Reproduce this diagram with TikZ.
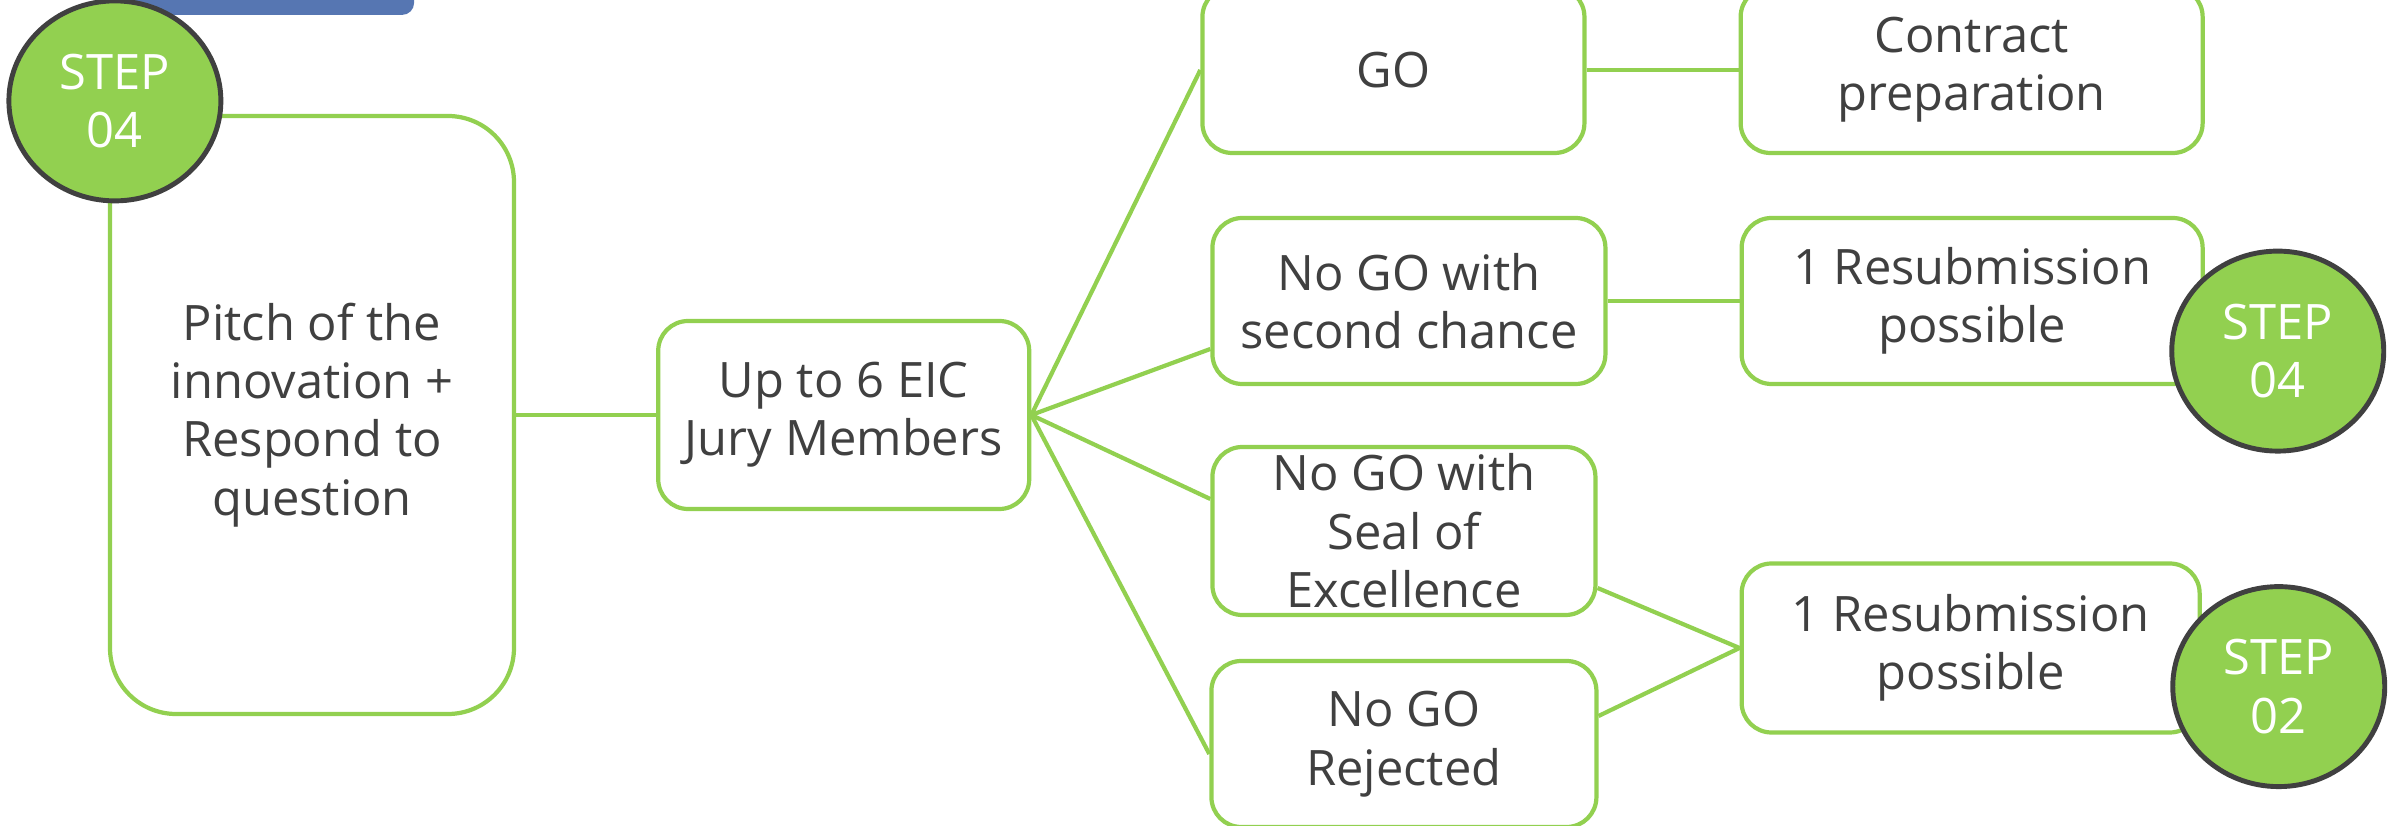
\documentclass[tikz,border=0pt]{standalone}
\usepackage{fontspec}
\setmainfont{Open Sans}
\usepackage{xcolor}
\usepackage{tikz}
\usetikzlibrary{shapes.geometric, positioning}
\definecolor{eicgreen}{HTML}{92D050}
\definecolor{eicgray}{HTML}{404040}
\definecolor{eicblue}{HTML}{5676B2}

\begin{document}
\begin{tikzpicture}[
    font=\fontsize{13.9}{16.6}\selectfont,
    line width=1.2pt,
    box/.style={rectangle, draw=eicgreen, fill=white, rounded corners=#1, text=eicgray, align=center, inner sep=0pt, minimum height=1.66cm},
    box/.default=8.5pt,
    stepnode/.style={ellipse, draw=eicgray, line width=1.4pt, fill=eicgreen, text=white, align=center, minimum width=2.12cm, minimum height=2cm, inner sep=0pt},
    link/.style={draw=eicgreen, line width=1.2pt},
]
    \useasboundingbox (-3.12,-4.11) rectangle (20.80,4.15);

    % Banner (cut off at the top)
    \node[fill=eicblue, rounded corners=3.4pt, minimum width=3.13cm, minimum height=0.6cm, inner sep=0pt, anchor=south west] (banner) at (-2.13,3.98) {};

    % Pitch and jury
    \node[box=18.8pt, minimum width=4.04cm, minimum height=5.98cm] (pitch) {Pitch of the\\innovation +\\Respond to\\question};
    \node[box, minimum width=3.71cm, minimum height=1.88cm, right=1.40cm of pitch] (jury) {Up to 6 EIC\\Jury Members};

    % Outcomes
    \node[box, minimum width=3.82cm, right=1.69cm of jury, yshift=3.45cm] (go) {GO};
    \node[box, minimum width=3.93cm, right=1.79cm of jury, yshift=1.14cm] (second) {No GO with\\second chance};
    \node[box, minimum width=3.83cm, minimum height=1.68cm, right=1.79cm of jury, yshift=-1.16cm] (seal) {No GO with\\Seal of\\Excellence};
    \node[box, minimum width=3.85cm, right=1.78cm of jury, yshift=-3.29cm] (rejected) {No GO\\Rejected};

    % Next steps
    \node[box, minimum width=4.62cm, right=1.52cm of go] (contract) {Contract\\preparation};
    \node[box, minimum width=4.61cm, right=1.32cm of second] (resubA) {1 Resubmission\\possible};
    \node[box, minimum width=4.58cm, minimum height=1.69cm, right=1.42cm of seal, yshift=-1.17cm] (resubB) {1 Resubmission\\possible};

    \draw[link] (pitch) -- (jury);
    \draw[link] (jury.east) -- (go.west);
    \draw[link] (jury.east) -- ([yshift=-0.48cm]second.west);
    \draw[link] (jury.east) -- ([yshift=0.32cm]seal.west);
    \draw[link] (jury.east) -- ([yshift=-0.10cm]rejected.west);
    \draw[link] (go) -- (contract);
    \draw[link] (second) -- (resubA);
    \draw[link] ([yshift=-0.57cm]seal.east) -- (resubB.west);
    \draw[link] ([yshift=0.28cm]rejected.east) -- (resubB.west);

    % Step badges
    \node[stepnode, xshift=0.07cm, yshift=0.13cm] (stepA) at (pitch.north west) {STEP\\04};
    \node[stepnode, xshift=0.73cm, yshift=0.35cm] (stepB) at (resubA.south east) {STEP\\04};
    \node[stepnode, xshift=0.77cm, yshift=0.48cm] (stepC) at (resubB.south east) {STEP\\02};
\end{tikzpicture}
\end{document}
